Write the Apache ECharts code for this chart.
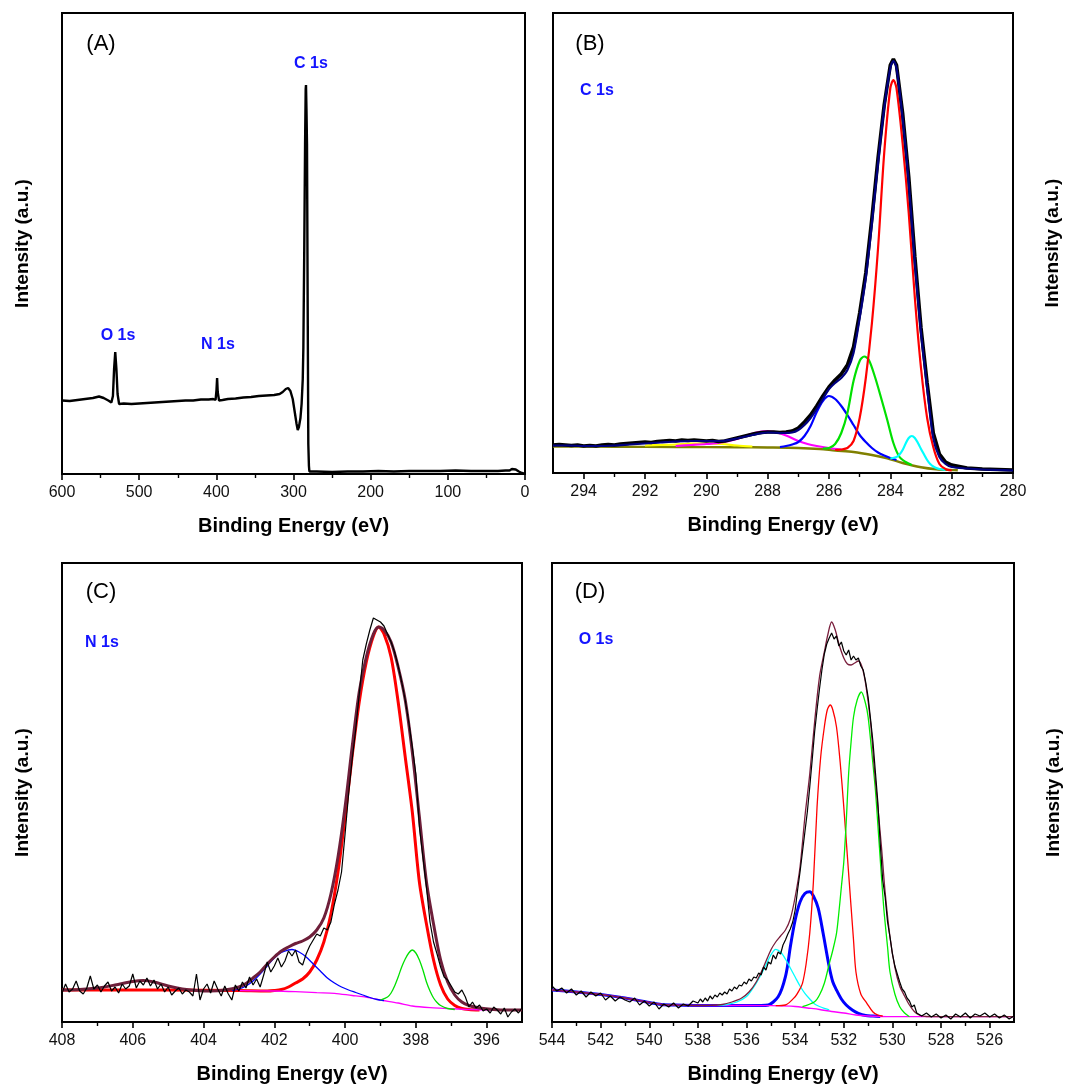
<!DOCTYPE html>
<html>
<head>
<meta charset="utf-8">
<script src="https://cdn.jsdelivr.net/npm/echarts@6/dist/echarts.min.js"></script>
<style>
  html, body { margin: 0; padding: 0; background: #ffffff; }
  #chart { width: 1072px; height: 1088px; }
</style>
</head>
<body>
<div id="chart"></div>
<script>
// ---------- (A) survey spectrum: [binding energy eV, intensity a.u.] ----------
const surveySpectrum = [
  [600, 73.5], [590, 73], [580, 74], [570, 75], [560, 76], [552, 77.5], [546, 76], [540, 73.5],
  [536, 71.5], [534, 78], [532.5, 105], [531, 122], [529.5, 105], [528, 80], [526, 70],
  [520, 70.5], [510, 70], [500, 70.5], [490, 71], [480, 71.5], [470, 72], [460, 72.5], [450, 73],
  [440, 73.5], [430, 73.5], [420, 74.5], [410, 74.5], [404, 75], [401, 74], [399.8, 84], [399, 96],
  [398.2, 82], [396.5, 73.5], [392, 74], [385, 75], [375, 75.5], [365, 76.5], [355, 77], [345, 78],
  [335, 78.5], [325, 79], [318, 80], [314, 82], [310, 85], [307, 86], [304, 83], [301, 75],
  [298, 60], [296, 50], [294.5, 44], [293, 47], [291, 56], [289.5, 70], [288, 95], [287.2, 127],
  [286, 230], [285, 330], [284.2, 385], [283.8, 389], [283.2, 365], [282.5, 330], [281.6, 164],
  [280.8, 30], [280, 8], [279.4, 2.5], [277, 2.5], [270, 2.5], [250, 2], [230, 2.5], [210, 2.5],
  [190, 3], [170, 2.5], [150, 3], [130, 3], [110, 3], [90, 3.5], [70, 3], [50, 3], [35, 3],
  [25, 3.5], [20, 3.5], [17, 5], [15, 6], [12, 4.5], [8, 2.5], [4, 1], [0, 0]
];

// ---------- (B) C 1s high resolution ----------
const c1sMeasured = [
  [295, 28], [294.8, 28.5], [294.6, 28], [294.4, 27.5], [294.2, 28], [294, 27], [293.8, 27.5],
  [293.6, 27], [293.4, 28], [293.2, 28.5], [293, 28], [292.8, 29], [292.6, 29.5], [292.4, 30],
  [292.2, 30.5], [292, 31], [291.8, 30.5], [291.6, 31.5], [291.4, 32], [291.2, 32.5], [291, 32],
  [290.8, 33], [290.6, 32.5], [290.4, 33], [290.2, 32.5], [290, 32], [289.8, 32.5], [289.6, 31.5],
  [289.4, 32], [289.2, 33.5], [289, 35], [288.8, 36.5], [288.6, 38], [288.4, 39.5], [288.2, 40.5],
  [288, 41], [287.8, 41], [287.6, 40.5], [287.4, 41], [287.2, 42], [287, 45], [286.8, 51],
  [286.6, 58], [286.4, 67], [286.2, 77], [286, 86], [285.8, 93], [285.6, 99], [285.4, 108],
  [285.2, 126], [285, 160], [284.8, 200], [284.6, 255], [284.4, 315], [284.2, 368], [284, 408],
  [283.9, 414], [283.8, 408], [283.6, 360], [283.4, 296], [283.2, 216], [283, 145], [282.8, 90],
  [282.6, 40], [282.4, 19], [282.2, 11], [282, 8], [281.5, 5], [281, 4], [280.5, 3.5], [280, 3]
];
const c1sEnvelope = [
  [295, 27.5], [294.5, 27.5], [294, 27], [293.5, 27], [293, 27.5], [292.5, 28.5], [292, 29.5],
  [291.5, 30.5], [291, 31.5], [290.5, 32], [290, 32], [289.5, 32], [289, 34.5], [288.5, 38],
  [288, 40.5], [287.5, 40], [287.2, 40.5], [287, 43], [286.8, 48], [286.6, 55], [286.4, 64],
  [286.2, 74], [286, 84], [285.8, 90], [285.6, 95], [285.4, 103], [285.2, 120], [285, 155],
  [284.8, 195], [284.6, 250], [284.4, 310], [284.2, 365], [284, 405], [283.9, 412], [283.8, 405],
  [283.6, 355], [283.4, 290], [283.2, 210], [283, 140], [282.8, 85], [282.6, 35], [282.4, 16],
  [282.2, 9], [282, 6], [281.5, 4.5], [281, 3.5], [280.5, 3], [280, 2.5]
];
const c1sBackground = [
  [295, 26.5], [293, 26.3], [291, 26], [289, 25.8], [288, 25.5], [287, 25], [286.3, 24],
  [285.8, 22.5], [285.2, 21], [284.6, 18], [284.1, 14.7], [283.6, 10], [283, 5.7], [282.5, 3.7],
  [282, 3], [281.8, 2.8]
];
const c1sPeakCC = [
  [285.8, 23], [285.6, 23.5], [285.4, 25], [285.2, 32], [285, 55], [284.8, 95], [284.6, 150],
  [284.4, 225], [284.2, 320], [284, 385], [283.9, 393], [283.8, 385], [283.6, 330], [283.4, 260],
  [283.2, 175], [283, 105], [282.8, 55], [282.6, 26], [282.4, 9], [282.2, 4], [282, 2.5]
];
const c1sPeakCN = [
  [286.2, 24.5], [286, 25], [285.8, 29], [285.6, 40], [285.4, 60], [285.2, 92], [285, 112],
  [284.85, 116.5], [284.7, 113], [284.5, 96], [284.3, 75], [284.1, 53], [283.9, 30], [283.7, 16],
  [283.5, 11], [283.3, 8]
];
const c1sPeakCO = [
  [287.6, 26], [287.4, 27], [287.2, 28.5], [287, 31], [286.8, 37], [286.6, 47], [286.4, 61],
  [286.2, 72], [286, 77], [285.8, 74], [285.6, 67], [285.4, 58], [285.2, 48], [285, 38],
  [284.8, 31], [284.6, 25], [284.4, 20.5], [284.2, 17.5], [284, 15], [283.8, 13]
];
const c1sPeakLow = [
  [284, 14.5], [283.8, 16], [283.7, 18.5], [283.6, 23], [283.5, 29.5], [283.4, 35], [283.3, 37],
  [283.2, 35], [283.1, 30], [283, 24], [282.9, 18.5], [282.8, 13], [282.7, 9], [282.6, 6.5],
  [282.5, 5], [282.4, 4], [282.2, 3]
];
const c1sPeakCarbonyl = [
  [291, 27], [290.5, 28], [290, 29], [289.5, 30.5], [289, 34], [288.6, 38.5], [288.3, 41],
  [288, 42], [287.7, 40.5], [287.4, 37.5], [287, 32], [286.7, 29], [286.4, 27], [286, 25],
  [285.6, 23.5]
];
const c1sPeakShakeUp = [
  [292, 27.5], [291.5, 28], [291, 28.5], [290.5, 29.5], [290, 29.5], [289.5, 29], [289, 27.5],
  [288.5, 26.5]
];

// ---------- (C) N 1s high resolution ----------
const n1sMeasured = [
  [408, 29], [407.9, 38], [407.8, 30], [407.7, 33], [407.6, 41], [407.5, 31], [407.4, 28],
  [407.3, 34], [407.2, 46], [407.1, 33], [407, 37], [406.9, 30], [406.8, 36], [406.7, 40],
  [406.6, 31], [406.5, 35], [406.4, 29], [406.3, 38], [406.2, 33], [406.1, 36], [406, 48],
  [405.9, 34], [405.8, 41], [405.7, 37], [405.6, 44], [405.5, 36], [405.4, 42], [405.3, 33],
  [405.2, 38], [405.1, 30], [405, 35], [404.9, 27], [404.8, 31], [404.7, 34], [404.6, 28],
  [404.5, 32], [404.4, 30], [404.3, 26], [404.2, 48], [404.1, 22], [404, 33], [403.9, 38],
  [403.8, 29], [403.7, 41], [403.6, 33], [403.5, 26], [403.4, 36], [403.3, 28], [403.2, 22],
  [403.1, 37], [403, 31], [402.9, 40], [402.8, 34], [402.7, 45], [402.6, 37], [402.5, 43],
  [402.4, 35], [402.3, 47], [402.2, 60], [402.1, 50], [402, 56], [401.9, 64], [401.8, 55],
  [401.7, 61], [401.6, 71], [401.5, 66], [401.4, 72], [401.3, 60], [401.2, 57], [401.1, 68],
  [401, 76], [400.9, 82], [400.8, 88], [400.7, 86], [400.6, 94], [400.5, 92], [400.4, 100],
  [400.3, 118], [400.2, 132], [400.1, 150], [400, 188], [399.9, 228], [399.8, 262], [399.7, 292],
  [399.6, 328], [399.5, 362], [399.4, 378], [399.3, 392], [399.2, 404], [399.1, 402], [399, 400],
  [398.9, 396], [398.8, 388], [398.7, 380], [398.6, 370], [398.5, 356], [398.4, 340], [398.3, 322],
  [398.2, 300], [398.1, 275], [398, 248], [397.9, 195], [397.8, 165], [397.7, 135], [397.6, 100],
  [397.5, 80], [397.4, 68], [397.3, 55], [397.2, 45], [397.1, 42], [397, 36], [396.9, 30],
  [396.8, 28], [396.7, 32], [396.6, 25], [396.5, 15], [396.4, 20], [396.3, 14], [396.2, 17],
  [396.1, 11], [396, 13], [395.9, 9], [395.8, 15], [395.7, 12], [395.6, 8], [395.5, 14],
  [395.4, 5], [395.3, 10], [395.2, 13], [395.1, 9], [395, 14]
];
const n1sEnvelope = [
  [408, 32], [407.5, 32.5], [407, 34], [406.5, 37], [406, 40.5], [405.7, 41.5], [405.4, 40],
  [405, 36], [404.6, 33], [404.2, 31.5], [403.8, 31], [403.4, 32], [403, 35], [402.8, 38.5],
  [402.6, 44], [402.4, 50], [402.2, 58], [402, 65], [401.8, 71], [401.6, 75], [401.4, 78.5],
  [401.2, 81], [401, 85], [400.8, 92], [400.6, 104], [400.4, 128], [400.2, 165], [400, 215],
  [399.8, 275], [399.6, 330], [399.4, 365], [399.2, 388], [399.05, 395], [398.9, 392],
  [398.7, 380], [398.5, 355], [398.3, 322], [398.1, 270], [397.9, 205], [397.7, 140],
  [397.5, 98], [397.3, 62], [397.1, 40], [396.9, 27], [396.7, 20], [396.5, 16.5], [396.2, 14],
  [395.8, 12.5], [395.4, 12], [395, 12]
];
const n1sPeakPyrrolic = [
  [408, 32], [405, 32], [403, 31.5], [402.2, 31], [402, 31.5], [401.8, 32.5], [401.6, 35],
  [401.4, 39], [401.2, 43], [401, 50], [400.8, 62], [400.6, 80], [400.4, 108], [400.2, 150],
  [400, 205], [399.8, 266], [399.6, 320], [399.4, 360], [399.2, 386], [399.05, 395],
  [398.9, 388], [398.7, 365], [398.5, 320], [398.3, 265], [398.1, 210], [397.9, 140],
  [397.7, 98], [397.5, 62], [397.3, 37], [397.1, 23], [396.9, 16.5], [396.7, 13.5],
  [396.5, 12.5], [396.2, 12]
];
const n1sPeakGraphitic = [
  [403.2, 31.5], [403, 33], [402.8, 36], [402.6, 41], [402.4, 48], [402.2, 56], [402, 64],
  [401.8, 69.5], [401.6, 72], [401.5, 72.5], [401.3, 70], [401.1, 65], [400.9, 58], [400.7, 51],
  [400.5, 44], [400.3, 39], [400.1, 35], [399.9, 32], [399.7, 29.5], [399.5, 27], [399.3, 24.5],
  [399.1, 22.5], [398.9, 21.5]
];
const n1sPeakPyridinic = [
  [399, 22], [398.8, 25], [398.7, 29], [398.6, 36], [398.5, 45], [398.4, 55], [398.3, 63],
  [398.2, 69], [398.1, 72], [398, 69], [397.9, 62], [397.8, 52], [397.7, 40], [397.6, 31],
  [397.5, 24], [397.4, 19.5], [397.3, 16.5], [397.1, 13.5], [396.9, 12.5]
];
const n1sBackground = [
  [403, 31.3], [402, 31], [401.4, 30.3], [400.8, 29.3], [400.3, 28.7], [399.8, 26.5],
  [399.5, 25.3], [399, 22], [398.5, 19], [398.1, 16], [397.6, 14.3], [397.2, 13.7],
  [396.5, 12.5], [395, 12]
];

// ---------- (D) O 1s high resolution ----------
const o1sMeasured = [
  [544, 36], [543.8, 31], [543.6, 34], [543.4, 29], [543.2, 33], [543, 27], [542.8, 31],
  [542.6, 25], [542.4, 30], [542.2, 26], [542, 29], [541.8, 22], [541.6, 26], [541.4, 21],
  [541.2, 25], [541, 22], [540.8, 20], [540.6, 24], [540.4, 17], [540.2, 21], [540, 16],
  [539.8, 20], [539.6, 13], [539.4, 18], [539.2, 15], [539, 19], [538.8, 14], [538.6, 18],
  [538.4, 16], [538.2, 21], [538, 19], [537.9, 23], [537.8, 20], [537.7, 24], [537.6, 21],
  [537.5, 26], [537.4, 23], [537.3, 27], [537.2, 25], [537.1, 29], [537, 27], [536.9, 30],
  [536.8, 28], [536.7, 33], [536.6, 31], [536.5, 35], [536.4, 33], [536.3, 37], [536.2, 36],
  [536.1, 40], [536, 38], [535.9, 43], [535.8, 41], [535.7, 45], [535.6, 44], [535.5, 49],
  [535.4, 47], [535.3, 55], [535.2, 52], [535.1, 60], [535, 58], [534.9, 67], [534.8, 63],
  [534.7, 70], [534.6, 68], [534.5, 77], [534.4, 82], [534.3, 88], [534.2, 93], [534.1, 100],
  [534, 112], [533.9, 132], [533.8, 150], [533.7, 170], [533.6, 190], [533.5, 210], [533.4, 235],
  [533.3, 262], [533.2, 290], [533.1, 312], [533, 333], [532.9, 352], [532.8, 368], [532.7, 378],
  [532.6, 384], [532.5, 389], [532.4, 383], [532.3, 386], [532.2, 376], [532.1, 380], [532, 371],
  [531.9, 367], [531.8, 372], [531.7, 362], [531.6, 366], [531.5, 362], [531.4, 364], [531.3, 356],
  [531.2, 352], [531.1, 340], [531, 325], [530.9, 303], [530.8, 280], [530.7, 250], [530.6, 220],
  [530.5, 178], [530.4, 142], [530.3, 125], [530.2, 100], [530.1, 85], [530, 68], [529.9, 56],
  [529.8, 48], [529.7, 40], [529.6, 33], [529.5, 30], [529.4, 24], [529.3, 21], [529.2, 15],
  [529.1, 17], [529, 9], [528.8, 6], [528.6, 9], [528.4, 5], [528.2, 8], [528, 4], [527.8, 7],
  [527.6, 3], [527.4, 8], [527.2, 5], [527, 9], [526.8, 4], [526.6, 8], [526.4, 6], [526.2, 9],
  [526, 5], [525.8, 8], [525.6, 4], [525.4, 7], [525.2, 3], [525, 6]
];
const o1sEnvelope = [
  [544, 32], [543, 30], [542, 27.5], [541, 24], [540, 19.5], [539.5, 17.5], [539, 17],
  [538, 16.5], [537.5, 16.7], [537, 17.5], [536.6, 20], [536.2, 24], [535.9, 30], [535.6, 40],
  [535.3, 55], [535, 72], [534.8, 80], [534.6, 86], [534.4, 92], [534.2, 103], [534, 125],
  [533.8, 155], [533.6, 205], [533.4, 248], [533.2, 300], [533, 345], [532.8, 370],
  [532.65, 388], [532.5, 400], [532.35, 392], [532.2, 378], [532, 364], [531.85, 358],
  [531.7, 357], [531.55, 359], [531.4, 361], [531.25, 355], [531.1, 338], [530.9, 300],
  [530.75, 255], [530.6, 215], [530.45, 175], [530.3, 130], [530.1, 85], [529.9, 55],
  [529.7, 36], [529.5, 26], [529.3, 17], [529.1, 10.5], [528.9, 7], [528.6, 5.5], [528.3, 5.3],
  [525, 5.3]
];
const o1sBackground = [
  [544, 32], [543, 30], [542, 27.5], [541, 24], [540, 19.5], [539.5, 17.5], [539, 17],
  [538, 16.5], [537, 16.5], [536, 16.5], [535, 16.3], [534, 15.5], [533.5, 14], [533, 12.5],
  [532.5, 10.5], [532, 9], [531.5, 7], [531, 6], [530.5, 5.5], [530, 5.3], [525, 5.3]
];
const o1sPeakHigh = [
  [537.2, 16.6], [536.8, 17.5], [536.4, 20], [536, 25.5], [535.7, 35], [535.45, 45.3],
  [535.2, 57], [535, 67], [534.8, 72.7], [534.6, 70], [534.4, 63], [534.2, 54], [534, 45],
  [533.8, 36], [533.6, 28.7], [533.4, 23], [533.2, 18], [533, 15.5], [532.8, 13.7], [532.6, 12.2]
];
const o1sPeakCO = [
  [544, 32], [543, 30], [542, 27.5], [541, 24], [540, 19.5], [539.5, 17.5], [539, 17],
  [538, 16.5], [537, 16.5], [536, 16.5], [535.4, 16.5], [535.1, 17], [534.9, 20], [534.7, 25.3],
  [534.55, 33], [534.4, 45.3], [534.3, 58], [534.2, 75], [534, 102], [533.8, 120], [533.6, 128.5],
  [533.4, 130.3], [533.25, 126], [533.05, 113.7], [532.85, 88.7], [532.6, 55.3], [532.45, 40],
  [532.3, 32], [532.1, 23], [531.9, 17], [531.65, 12], [531.4, 8.7], [531.1, 6.5], [530.8, 6],
  [530.5, 5.5]
];
const o1sPeakCOH = [
  [534.8, 16.3], [534.4, 17], [534, 25.3], [533.85, 31], [533.7, 38.7], [533.55, 58],
  [533.4, 88.7], [533.25, 140], [533.1, 215], [532.95, 265], [532.8, 295], [532.68, 312],
  [532.56, 317], [532.45, 312], [532.3, 295], [532.15, 260], [532, 215], [531.85, 165],
  [531.7, 115], [531.6, 82], [531.5, 50], [531.3, 28], [531.05, 18.7], [530.8, 10], [530.6, 7],
  [530.4, 6]
];
const o1sPeakCdO = [
  [533.7, 15.3], [533.2, 20.3], [533, 27], [532.8, 38.7], [532.6, 58], [532.45, 72],
  [532.3, 88.7], [532.2, 110], [532.1, 135], [532, 160], [531.9, 200], [531.8, 248.7],
  [531.7, 280], [531.6, 305], [531.45, 322], [531.28, 330], [531.1, 318], [531, 305],
  [530.85, 270], [530.7, 232], [530.55, 180], [530.36, 115], [530.2, 75], [530.1, 50],
  [529.9, 28], [529.7, 15.3], [529.5, 9], [529.3, 5.3]
];

// ---------- tick positions per panel ----------
const surveyMajorTicks = [0, 100, 200, 300, 400, 500, 600];
const surveyMinorTicks = [50, 150, 250, 350, 450, 550];
const c1sMajorTicks = [280, 282, 284, 286, 288, 290, 292, 294];
const c1sMinorTicks = [281, 283, 285, 287, 289, 291, 293];
const n1sMajorTicks = [396, 398, 400, 402, 404, 406, 408];
const n1sMinorTicks = [397, 399, 401, 403, 405, 407];
const o1sMajorTicks = [526, 528, 530, 532, 534, 536, 538, 540, 542, 544];
const o1sMinorTicks = [527, 529, 531, 533, 535, 537, 539, 541, 543];

// ---------- layout ----------
const FONT = '"Liberation Sans", Arial, Helvetica, sans-serif';
const panels = [
  { grid: { left: 62, top: 13, width: 463, height: 461 }, min: 0, max: 600, yMax: 461,
    major: surveyMajorTicks, minor: surveyMinorTicks, yPos: 'left' },
  { grid: { left: 553, top: 13, width: 460, height: 460 }, min: 280, max: 295, yMax: 460,
    major: c1sMajorTicks, minor: c1sMinorTicks, yPos: 'right' },
  { grid: { left: 62, top: 563, width: 460, height: 459 }, min: 395, max: 408, yMax: 459,
    major: n1sMajorTicks, minor: n1sMinorTicks, yPos: 'left' },
  { grid: { left: 552, top: 563, width: 462, height: 459 }, min: 525, max: 544, yMax: 459,
    major: o1sMajorTicks, minor: o1sMinorTicks, yPos: 'right' }
];

const grids = panels.map(p => Object.assign({
  show: true, borderColor: '#000', borderWidth: 2, backgroundColor: '#fff', containLabel: false
}, p.grid));

const xAxes = [];
panels.forEach((p, i) => {
  xAxes.push({
    type: 'value', gridIndex: i, min: p.min, max: p.max, inverse: true, position: 'bottom',
    axisLine: { show: true, onZero: false, lineStyle: { color: '#000', width: 2 } },
    axisTick: { show: true, inside: false, length: 6, customValues: p.major,
                lineStyle: { color: '#000', width: 1.6 } },
    axisLabel: { show: true, customValues: p.major, margin: 11, fontSize: 16, color: '#111',
                 fontFamily: FONT },
    splitLine: { show: false },
    name: 'Binding Energy (eV)', nameLocation: 'middle', nameGap: 42,
    nameTextStyle: { fontSize: 20, fontWeight: 'bold', color: '#000', fontFamily: FONT }
  });
  xAxes.push({
    type: 'value', gridIndex: i, min: p.min, max: p.max, inverse: true, position: 'bottom',
    axisLine: { show: false },
    axisTick: { show: true, inside: false, length: 4, customValues: p.minor,
                lineStyle: { color: '#000', width: 1.4 } },
    axisLabel: { show: false },
    splitLine: { show: false }
  });
});

const yAxes = panels.map((p, i) => ({
  type: 'value', gridIndex: i, min: 0, max: p.yMax, position: p.yPos,
  axisLine: { show: false }, axisTick: { show: false }, axisLabel: { show: false },
  splitLine: { show: false },
  name: 'Intensity (a.u.)', nameLocation: 'middle', nameRotate: 90, nameGap: 30,
  nameTextStyle: { fontSize: 19, fontWeight: 'bold', color: '#000', fontFamily: FONT }
}));

function trace(panel, data, color, width, smooth) {
  return {
    type: 'line', xAxisIndex: panel * 2, yAxisIndex: panel, data: data,
    symbol: 'none', showSymbol: false, smooth: smooth ? 0.3 : false,
    lineStyle: { color: color, width: width }, silent: true, animation: false
  };
}

const series = [
  // (A)
  trace(0, surveySpectrum, '#000', 2.4, false),
  // (B)
  trace(1, c1sBackground, '#808000', 2.4, true),
  trace(1, c1sPeakShakeUp, '#ffff00', 2.2, true),
  trace(1, c1sPeakCarbonyl, '#ff00ff', 2.2, true),
  trace(1, c1sPeakCO, '#0000ff', 2.2, true),
  trace(1, c1sPeakCN, '#00e000', 2.2, true),
  trace(1, c1sPeakLow, '#00ffff', 2.2, true),
  trace(1, c1sPeakCC, '#ff0000', 2.2, true),
  trace(1, c1sMeasured, '#000', 3.6, false),
  trace(1, c1sEnvelope, '#000080', 2.2, true),
  // (C)
  trace(2, n1sPeakPyrrolic, '#ff0000', 3, true),
  trace(2, n1sBackground, '#ff00ff', 1.3, true),
  trace(2, n1sPeakGraphitic, '#0000ff', 1.3, true),
  trace(2, n1sPeakPyridinic, '#00e000', 1.3, true),
  trace(2, n1sEnvelope, '#6e1f3a', 3, true),
  trace(2, n1sMeasured, '#000', 1.2, false),
  // (D)
  trace(3, o1sPeakCO, '#0000ff', 3, true),
  trace(3, o1sBackground, '#ff00ff', 1.3, true),
  trace(3, o1sPeakHigh, '#00ffff', 1.3, true),
  trace(3, o1sPeakCOH, '#ff0000', 1.3, true),
  trace(3, o1sPeakCdO, '#00ee00', 1.3, true),
  trace(3, o1sEnvelope, '#7a1f3d', 1.3, true),
  trace(3, o1sMeasured, '#000', 1.2, false)
];

function label(x, y, text, opts) {
  return {
    type: 'text', x: x, y: y, silent: true, z: 100,
    style: Object.assign({ text: text, align: 'center', verticalAlign: 'middle',
      textAlign: 'center', textVerticalAlign: 'middle', fontFamily: FONT }, opts)
  };
}
const panelTag = { fontSize: 22, fontWeight: 'normal', fill: '#000' };
const coreTag = { fontSize: 16, fontWeight: 'bold', fill: '#1414ff' };

const graphics = [
  label(101, 44, '(A)', panelTag),
  label(590, 44, '(B)', panelTag),
  label(101, 592, '(C)', panelTag),
  label(590, 592, '(D)', panelTag),
  label(311, 64, 'C 1s', coreTag),
  label(118, 336, 'O 1s', coreTag),
  label(218, 345, 'N 1s', coreTag),
  label(597, 91, 'C 1s', coreTag),
  label(102, 643, 'N 1s', coreTag),
  label(596, 640, 'O 1s', coreTag)
];

const chart = echarts.init(document.getElementById('chart'), null, { renderer: 'canvas' });
chart.setOption({
  backgroundColor: '#ffffff',
  animation: false,
  grid: grids,
  xAxis: xAxes,
  yAxis: yAxes,
  series: series,
  graphic: graphics
});
</script>
</body>
</html>
